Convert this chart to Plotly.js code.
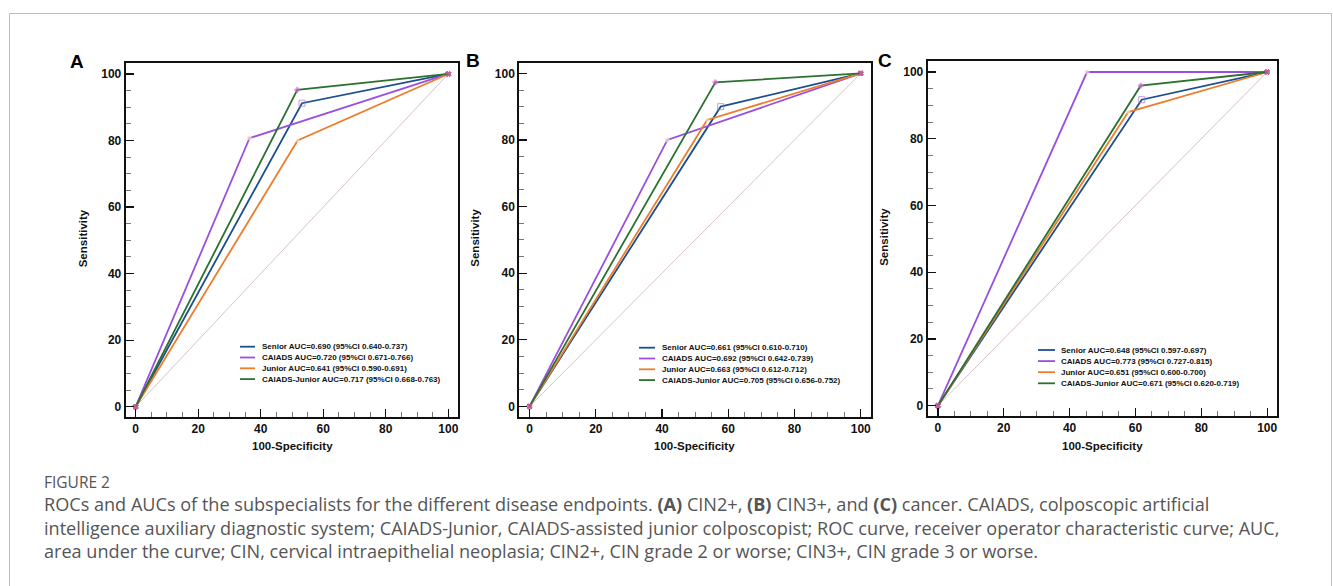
<!DOCTYPE html>
<html>
<head>
<meta charset="utf-8">
<script src="https://cdn.plot.ly/plotly-3.0.1.min.js"></script>
<style>
  html, body { margin: 0; padding: 0; background: #ffffff; }
  #chart { width: 1333px; height: 586px; }
</style>
</head>
<body>
<div id="chart"></div>
<script>
// ---------------- DATA ----------------
const readers = ['Senior', 'CAIADS', 'Junior', 'CAIADS-Junior'];
const tickVals = [0, 20, 40, 60, 80, 100];

// Panel A: CIN2+
const fprA  = [53.2, 36.4, 51.8, 51.7];
const sensA = [91.2, 80.7, 80.0, 95.2];
const aucA  = ['0.690', '0.720', '0.641', '0.717'];
const ciA   = ['0.640-0.737', '0.671-0.766', '0.590-0.691', '0.668-0.763'];

// Panel B: CIN3+
const fprB  = [57.7, 41.6, 53.6, 56.1];
const sensB = [90.0, 80.0, 86.0, 97.3];
const aucB  = ['0.661', '0.692', '0.663', '0.705'];
const ciB   = ['0.610-0.710', '0.642-0.739', '0.612-0.712', '0.656-0.752'];

// Panel C: cancer
const fprC  = [61.9, 45.3, 57.8, 61.6];
const sensC = [91.7, 100.0, 88.0, 95.9];
const aucC  = ['0.648', '0.773', '0.651', '0.671'];
const ciC   = ['0.597-0.697', '0.727-0.815', '0.600-0.700', '0.620-0.719'];

const panelLetters = ['A', 'B', 'C'];
const captionTitle = 'FIGURE 2';
const captionLines = [
  'ROCs and AUCs of the subspecialists for the different disease endpoints. <b>(A)</b> CIN2+, <b>(B)</b> CIN3+, and <b>(C)</b> cancer. CAIADS, colposcopic artificial',
  'intelligence auxiliary diagnostic system; CAIADS-Junior, CAIADS-assisted junior colposcopist; ROC curve, receiver operator characteristic curve; AUC,',
  'area under the curve; CIN, cervical intraepithelial neoplasia; CIN2+, CIN grade 2 or worse; CIN3+, CIN grade 3 or worse.'
];

// ---------------- STYLE / LAYOUT ----------------
const W = 1333, H = 586;
const px = v => v / W;
const py = v => 1 - v / H;

const colors = ['#1c4f8e', '#9b4fe0', '#ee7d2b', '#2b7130'];
const midMarkers = [
  {symbol: 'square-open', size: 6, color: '#a878c8'},
  {symbol: 'circle', size: 4, color: '#f3dcc4'},
  {symbol: 'circle', size: 3, color: '#efe2b8'},
  {symbol: 'cross', size: 4, color: '#d468d0'}
];
const endMarker = {symbol: 'x', size: 4.5, color: '#c4609e'};

const panels = [
  {fpr: fprA, sens: sensA, auc: aucA, ci: ciA,
   dx: [125.7, 458.3], dy: [63.3, 416.7], xr: [-3.2, 103.2], yr: [-3.0, 103.2],
   letter: [76.5, 61.7], ytx: 83.3,
   leg: {x0: 240, x1: 255, tx: 259.5, y0: 346.7, dy: 10.8}},
  {fpr: fprB, sens: sensB, auc: aucB, ci: ciB,
   dx: [519.3, 870.7], dy: [62.7, 416.7], xr: [-3.1, 103.0], yr: [-3.1, 103.2],
   letter: [473.3, 60.5], ytx: 475,
   leg: {x0: 639, x1: 655, tx: 659.5, y0: 347.7, dy: 10.8}},
  {fpr: fprC, sens: sensC, auc: aucC, ci: ciC,
   dx: [927.7, 1276.7], dy: [61, 416], xr: [-3.1, 102.9], yr: [-3.1, 103.3],
   letter: [885.3, 60.5], ytx: 883.3,
   leg: {x0: 1038, x1: 1055, tx: 1059.2, y0: 350, dy: 11.1}}
];

const traces = [];
const layout = {
  width: W, height: H,
  margin: {l: 0, r: 0, t: 0, b: 0},
  paper_bgcolor: '#ffffff',
  plot_bgcolor: '#ffffff',
  showlegend: false,
  shapes: [],
  annotations: []
};

const tickFont = {family: 'Liberation Sans, Arial, sans-serif', size: 12, color: '#111', weight: 'bold'};
const legFont = {family: 'Liberation Sans, Arial, sans-serif', size: 8, color: '#111', weight: 'bold'};

panels.forEach((p, i) => {
  const n = i === 0 ? '' : String(i + 1);
  const xa = 'x' + n, ya = 'y' + n;
  // diagonal reference
  traces.push({
    x: [tickVals[0], tickVals[tickVals.length - 1]],
    y: [tickVals[0], tickVals[tickVals.length - 1]],
    xaxis: xa, yaxis: ya, mode: 'lines', type: 'scatter',
    line: {color: '#d9c2c2', width: 1}, hoverinfo: 'skip'
  });
  readers.forEach((r, k) => {
    traces.push({
      x: [0, p.fpr[k], 100],
      y: [0, p.sens[k], 100],
      xaxis: xa, yaxis: ya, type: 'scatter', mode: 'lines+markers',
      name: r,
      line: {color: colors[k], width: 1.8},
      marker: {
        symbol: [endMarker.symbol, midMarkers[k].symbol, endMarker.symbol],
        size: [endMarker.size, midMarkers[k].size, endMarker.size],
        color: [endMarker.color, midMarkers[k].color, endMarker.color],
        line: {width: 1, color: [endMarker.color, midMarkers[k].color, endMarker.color]}
      }
    });
  });

  const axCommon = {
    showgrid: false, zeroline: false,
    showline: true, mirror: true, linecolor: '#111', linewidth: 2,
    ticks: 'inside', ticklen: 8, tickwidth: 1.3, tickcolor: '#111',
    tickvals: tickVals, tickfont: tickFont, fixedrange: true,
    minor: {dtick: 5, ticks: 'inside', ticklen: 5, tickwidth: 1, tickcolor: '#777', showgrid: false}
  };
  layout['xaxis' + n] = Object.assign({}, axCommon, {
    domain: [px(p.dx[0]), px(p.dx[1])], range: p.xr, anchor: ya
  });
  layout['yaxis' + n] = Object.assign({}, axCommon, {
    domain: [py(p.dy[1]), py(p.dy[0])], range: p.yr, anchor: xa
  });

  // panel letter
  layout.annotations.push({
    xref: 'paper', yref: 'paper', x: px(p.letter[0]), y: py(p.letter[1]),
    xanchor: 'center', yanchor: 'middle', showarrow: false,
    text: '<b>' + panelLetters[i] + '</b>',
    font: {family: 'Liberation Sans, Arial, sans-serif', size: 19, color: '#000'}
  });
  // axis titles
  layout.annotations.push({
    xref: 'paper', yref: 'paper', x: px((p.dx[0] + p.dx[1]) / 2), y: py(446),
    xanchor: 'center', yanchor: 'middle', showarrow: false,
    text: '<b>100-Specificity</b>',
    font: {family: 'Liberation Sans, Arial, sans-serif', size: 11.5, color: '#111'}
  });
  layout.annotations.push({
    xref: 'paper', yref: 'paper', x: px(p.ytx), y: py((p.dy[0] + p.dy[1]) / 2 - 2),
    xanchor: 'center', yanchor: 'middle', showarrow: false, textangle: -90,
    text: '<b>Sensitivity</b>',
    font: {family: 'Liberation Sans, Arial, sans-serif', size: 11.5, color: '#111'}
  });
  // legend
  readers.forEach((r, k) => {
    const yy = p.leg.y0 + k * p.leg.dy;
    layout.shapes.push({
      type: 'line', xref: 'paper', yref: 'paper',
      x0: px(p.leg.x0), x1: px(p.leg.x1), y0: py(yy), y1: py(yy),
      line: {color: colors[k], width: 1.8}
    });
    layout.annotations.push({
      xref: 'paper', yref: 'paper', x: px(p.leg.tx), y: py(yy),
      xanchor: 'left', yanchor: 'middle', showarrow: false,
      text: r + ' AUC=' + p.auc[k] + ' (95%CI ' + p.ci[k] + ')',
      font: legFont
    });
  });
});

// outer frame
layout.shapes.push({
  type: 'rect', xref: 'paper', yref: 'paper',
  x0: px(9.5), x1: px(1331.5), y0: -0.1, y1: py(13.5),
  line: {color: '#bdbdbd', width: 1}, fillcolor: 'rgba(0,0,0,0)', layer: 'below'
});

// caption
const capFont = {family: 'Open Sans, Lato, sans-serif', size: 18.1, color: '#555'};
layout.annotations.push({
  xref: 'paper', yref: 'paper', x: px(42), y: py(482),
  xanchor: 'left', yanchor: 'middle', showarrow: false,
  text: captionTitle,
  font: {family: 'Open Sans, Lato, sans-serif', size: 15.5, color: '#555'}
});
layout.annotations.push({
  xref: 'paper', yref: 'paper', x: px(42), y: py(527.5),
  xanchor: 'left', yanchor: 'middle', align: 'left', showarrow: false,
  text: captionLines.join('<br>'), font: capFont
});

Plotly.newPlot('chart', traces, layout, {displayModeBar: false, staticPlot: true});
</script>
</body>
</html>
